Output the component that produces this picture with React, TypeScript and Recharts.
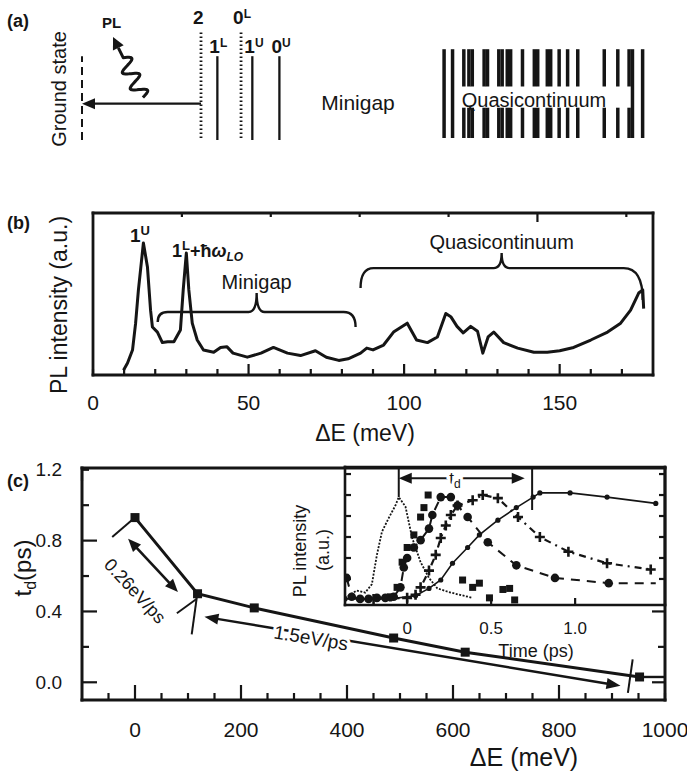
import React from "react"
import { ComposedChart, Line, XAxis, YAxis, ReferenceLine } from "recharts"

const FONT = "'Liberation Sans', Arial, Helvetica, sans-serif"
const INK = "#151515"
const W = 687

// (a) level scheme, energies in arbitrary units with the ground state at 0
const levelNames = ["2", "1L", "0L", "1U", "0U"]
const levelEnergies = [21.1, 24.0, 28.2, 30.2, 35.0]
const levelDotted = [true, false, true, false, false]
const quasiLevels = [
  64.2, 65.7, 67.7, 68.6, 69.2, 71.3, 71.9, 73.9, 74.5, 75.4, 76.0, 78.1, 80.2, 80.8, 82.5, 83.1, 84.6,
  86.1, 87.9, 92.6, 95.0, 97.0, 97.6, 99.4,
]
const quasiUnbroken = [64.2, 65.7, 97.6, 99.4]

// (b) PL spectrum
const plEnergy = [
  9.8, 11.1, 12.7, 13.7, 14.6, 16.2, 17.5, 18.5, 19.1, 20.7, 22.3, 24, 26, 28.1, 29, 30, 30.8, 31.9, 33.5,
  35.5, 38.8, 41, 43, 45, 49.6, 54, 58, 62.5, 66.7, 71.5, 75, 79, 82, 86, 88, 90, 93.4, 96.6, 101, 104,
  107.5, 110.7, 113.4, 115, 117, 119, 121.4, 123.6, 125.3, 127, 128.8, 132, 136.5, 141.7, 146, 150, 154.5,
  160, 165.4, 169.6, 172.8, 175.4, 176.7, 177,
]
const plIntensity = [
  3, 7.4, 15.4, 32, 52.5, 81.5, 66.7, 40, 29.6, 26.5, 20, 20.5, 20.5, 27.8, 52.5, 75.3, 52.5, 32, 21.6,
  15.4, 14, 17, 17.5, 13.5, 11, 13.5, 17, 13.5, 12, 15, 11, 9, 10, 13.5, 16.6, 15.5, 18.5, 26.5, 32, 21.6,
  20, 23.5, 38, 36, 30, 26, 30, 27, 13.5, 23.5, 26.5, 20, 16.6, 14, 14, 15, 17, 21.6, 26.5, 32, 40, 50.6,
  52.5, 41,
]
const spectrumTicks = [10, 20, 30, 40, 50, 60, 70, 80, 90, 100, 110, 120, 130, 140, 150, 160, 170]
const spectrumLabels = [0, 50, 100, 150]

// (c) delay time vs excess energy
const delayEnergy = [0, 118, 225, 488, 623, 952]
const delayTime = [0.93, 0.5, 0.42, 0.25, 0.17, 0.03]
const delayXTicks = [-50, 0, 50, 100, 150, 200, 250, 300, 350, 400, 450, 500, 550, 600, 650, 700, 750, 800, 850, 900, 950, 1000]
const delayXTopTicks = [-50, 0, 50, 100, 150, 200, 250, 300, 350]
const delayXLabels = [0, 200, 400, 600, 800, 1000]
const delayYTicks = [0, 0.2, 0.4, 0.6, 0.8, 1.0, 1.2]
const delayYLabels = [0, 0.4, 0.8, 1.2]

// (c) inset: PL transients at increasing detection energy
const pulseT = [-0.37, -0.3, -0.25, -0.21, -0.18, -0.15, -0.11, -0.07, -0.05, -0.01, 0.03, 0.08, 0.13, 0.18, 0.26, 0.39]
const pulseV = [0.02, 0.09, 0.07, 0.15, 0.43, 0.65, 0.78, 0.9, 0.98, 0.89, 0.59, 0.36, 0.21, 0.11, 0.07, 0.02]
const squareT = [-0.1, -0.06, -0.03, 0.0, 0.04, 0.08, 0.1, 0.125, 0.33, 0.39, 0.43, 0.49, 0.57, 0.61, 0.64]
const squareV = [0.03, 0.12, 0.36, 0.5, 0.62, 0.79, 0.88, 1.0, 0.19, 0.12, 0.16, 0.02, 0.1, 0.11, 0.0]
const circleT = [-0.36, -0.33, -0.28, -0.23, -0.18, -0.13, -0.08, -0.04, -0.02, 0.0, 0.04, 0.08, 0.13, 0.15, 0.2, 0.26, 0.3, 0.36, 0.48, 0.65, 0.88, 1.2, 1.48]
const circleV = [0.21, 0.03, 0.01, 0.01, 0.02, 0.02, 0.03, 0.12, 0.31, 0.4, 0.5, 0.57, 0.68, 0.81, 0.98, 0.98, 0.9, 0.79, 0.55, 0.33, 0.21, 0.16, 0.16]
const crossT = [-0.2, 0.0, 0.05, 0.08, 0.13, 0.17, 0.2, 0.23, 0.26, 0.3, 0.39, 0.45, 0.54, 0.66, 0.79, 0.96, 1.19, 1.45]
const crossV = [0.01, 0.02, 0.05, 0.12, 0.28, 0.43, 0.59, 0.71, 0.81, 0.9, 0.95, 1.0, 0.97, 0.79, 0.6, 0.46, 0.35, 0.29]
const diamondT = [-0.37, -0.1, 0.05, 0.13, 0.2, 0.27, 0.36, 0.43, 0.54, 0.65, 0.75, 0.79, 0.97, 1.19, 1.48]
const diamondV = [0.01, 0.01, 0.04, 0.11, 0.19, 0.35, 0.5, 0.62, 0.76, 0.88, 0.98, 1.02, 1.02, 0.98, 0.92]
const insetXLabels = [0, 0.5, 1.0]
const insetYTicks = [0.2, 0.4, 0.6, 0.8, 1.0, 1.2]

const zip = (t: number[], v: number[]) => t.map((x, i) => ({ t: x, v: v[i] }))

// ---------- frame helpers ----------
type Side = "bottom" | "top" | "left" | "right"
type TickStyle = {
  side: Side
  major?: number[]
  labelled?: number[]
  long?: number
  short?: number
  gap?: number
  fontSize?: number
  width?: number
  format?: (v: number) => string
}

const near = (list: number[] | undefined, v: number) => !!list && list.some((m) => Math.abs(m - v) < 1e-6)

// inward-pointing tick with an optional label outside the frame
function frameTick(s: TickStyle) {
  return function FrameTick(p: any) {
    const v = Number(p.payload?.value)
    const x = Number(p.x)
    const y = Number(p.y)
    const len = near(s.major, v) ? s.long ?? 10 : s.short ?? 5
    const d = { bottom: [0, -len], top: [0, len], left: [len, 0], right: [-len, 0] }[s.side]
    const gap = s.gap ?? 20
    const text = s.format ? s.format(v) : String(v)
    const common = { fill: INK, fontSize: s.fontSize ?? 18, fontFamily: FONT }
    let label: React.ReactNode = null
    if (near(s.labelled, v)) {
      label =
        s.side === "left" ? (
          <text x={x - gap} y={y} textAnchor="end" dominantBaseline="central" {...common}>
            {text}
          </text>
        ) : (
          <text x={x} y={y + gap} textAnchor="middle" dominantBaseline="central" {...common}>
            {text}
          </text>
        )
    }
    return (
      <g>
        <line x1={x} y1={y} x2={x + d[0]} y2={y + d[1]} stroke={INK} strokeWidth={s.width ?? 2.2} />
        {label}
      </g>
    )
  }
}

const frameLine = (w: number) => ({ stroke: INK, strokeWidth: w, strokeLinecap: "square" as const })
const noTick = () => <g />

// straight line with optional arrow heads at either end
function arrowShape(start: boolean, end: boolean, width = 2.4, head = 12, half = 5) {
  return function Arrow(p: any) {
    const { x1, y1, x2, y2 } = p
    const L = Math.hypot(x2 - x1, y2 - y1) || 1
    const ux = (x2 - x1) / L
    const uy = (y2 - y1) / L
    const nx = -uy
    const ny = ux
    const tri = (tx: number, ty: number, s: number) => {
      const bx = tx - s * ux * head
      const by = ty - s * uy * head
      return `${tx},${ty} ${bx + nx * half},${by + ny * half} ${bx - nx * half},${by - ny * half}`
    }
    const sx = start ? x1 + ux * head * 0.7 : x1
    const sy = start ? y1 + uy * head * 0.7 : y1
    const ex = end ? x2 - ux * head * 0.7 : x2
    const ey = end ? y2 - uy * head * 0.7 : y2
    return (
      <g>
        <line x1={sx} y1={sy} x2={ex} y2={ey} stroke={INK} strokeWidth={width} />
        {start && <polygon points={tri(x1, y1, -1)} fill={INK} />}
        {end && <polygon points={tri(x2, y2, 1)} fill={INK} />}
      </g>
    )
  }
}

// wavy photon arrow from (x1,y1) to the head at (x2,y2)
function wavyArrow(p: any) {
  const { x1, y1, x2, y2 } = p
  const L = Math.hypot(x2 - x1, y2 - y1) || 1
  const ux = (x2 - x1) / L
  const uy = (y2 - y1) / L
  const nx = -uy
  const ny = ux
  const waveLen = L * 0.66
  const pts: string[] = []
  for (let i = 0; i <= 60; i++) {
    const s = (i / 60) * waveLen
    const a = 7.5 * Math.sin((s / waveLen) * Math.PI * 5)
    pts.push(`${x1 + ux * s + nx * a},${y1 + uy * s + ny * a}`)
  }
  const head = 12
  const hx = x2 - ux * head
  const hy = y2 - uy * head
  pts.push(`${hx},${hy}`)
  return (
    <g>
      <polyline points={pts.join(" ")} fill="none" stroke={INK} strokeWidth={3} strokeLinejoin="round" />
      <polygon points={`${x2},${y2} ${hx + nx * 6},${hy + ny * 6} ${hx - nx * 6},${hy - ny * 6}`} fill={INK} />
    </g>
  )
}

// energy level with its name written above
function levelShape(name: string, dotted: boolean) {
  return function Level(p: any) {
    const { x1, y1, x2, y2 } = p
    const top = Math.min(y1, y2)
    return (
      <g>
        <line
          x1={x1}
          y1={y1}
          x2={x2}
          y2={y2}
          stroke={INK}
          strokeWidth={dotted ? 2.8 : 2.3}
          strokeDasharray={dotted ? "1.5 2.5" : undefined}
        />
        <text x={x1 - 8} y={top - (dotted ? 7 : 3)} fill={INK} fontFamily={FONT} fontWeight={700} fontSize={19}>
          {name[0]}
          {name.length > 1 && (
            <tspan dy={-6} fontSize={12}>
              {name.slice(1)}
            </tspan>
          )}
        </text>
      </g>
    )
  }
}

// curly brace along a horizontal segment, tip in the middle, label on top
function braceShape(label: string, tip: number, dropL: number, dropR: number, rL: number, rR: number) {
  return function Brace(p: any) {
    const { x1, y1, x2 } = p
    const xm = (x1 + x2) / 2
    const y = y1
    const d =
      `M${x1},${y + dropL} Q${x1},${y} ${x1 + rL},${y} L${xm - 8},${y} Q${xm},${y} ${xm},${y - tip}` +
      ` Q${xm},${y} ${xm + 8},${y} L${x2 - rR},${y} Q${x2},${y} ${x2},${y + dropR}`
    return (
      <g>
        <path d={d} fill="none" stroke={INK} strokeWidth={2.4} />
        <text x={xm} y={y - tip - 4} textAnchor="middle" fill={INK} fontFamily={FONT} fontSize={20}>
          {label}
        </text>
      </g>
    )
  }
}

// ---------- (a) ----------
const SOLID_TOP = 75.5
const DOTTED_TOP = 98
const DOTTED_BOTTOM = 1.8
const QC_TOP = 81.8
const QC_GAP_TOP = 48.2
const QC_GAP_BOTTOM = 29.1
const TRANSFER_Y = 32.7

function LevelScheme() {
  const ids = { xAxisId: "e", yAxisId: "h", ifOverflow: "visible" as const }
  const rows = levelEnergies.map((e) => ({ e, h: 0 }))
  const qcStroke = { stroke: INK, strokeWidth: 3.5 }
  return (
    <ComposedChart width={W} height={160} margin={{ top: 29, right: 41, bottom: 19, left: 81 }} data={rows}>
      <XAxis xAxisId="e" dataKey="e" type="number" domain={[0, 100]} allowDataOverflow ticks={[50]} height={1} axisLine={false} tickLine={false} tick={noTick} />
      <YAxis yAxisId="h" type="number" domain={[0, 100]} allowDataOverflow ticks={[50]} width={1} axisLine={false} tickLine={false} tick={noTick} />
      {/* carries the energy axis only, draws nothing */}
      <Line xAxisId="e" yAxisId="h" dataKey="h" stroke="none" dot={false} isAnimationActive={false} />
      <ReferenceLine
        {...ids}
        segment={[{ x: 0, y: 0 }, { x: 0, y: SOLID_TOP }]}
        stroke={INK}
        strokeWidth={2}
        strokeDasharray="8 5"
      />
      {levelEnergies.map((e, i) => (
        <ReferenceLine
          key={levelNames[i]}
          {...ids}
          segment={[
            { x: e, y: levelDotted[i] ? DOTTED_BOTTOM : 0 },
            { x: e, y: levelDotted[i] ? DOTTED_TOP : SOLID_TOP },
          ]}
          shape={levelShape(levelNames[i], levelDotted[i])}
        />
      ))}
      <ReferenceLine
        {...ids}
        segment={[{ x: levelEnergies[0], y: TRANSFER_Y }, { x: 0, y: TRANSFER_Y }]}
        shape={arrowShape(false, true, 2.2, 13, 5.5)}
      />
      <ReferenceLine {...ids} segment={[{ x: 10.8, y: 38.2 }, { x: 5.5, y: 92.7 }]} shape={wavyArrow} />
      {quasiLevels.map((e) =>
        near(quasiUnbroken, e) ? (
          <ReferenceLine key={`f${e}`} {...ids} segment={[{ x: e, y: DOTTED_BOTTOM }, { x: e, y: QC_TOP }]} {...qcStroke} />
        ) : (
          [
            <ReferenceLine key={`u${e}`} {...ids} segment={[{ x: e, y: QC_GAP_TOP }, { x: e, y: QC_TOP }]} {...qcStroke} />,
            <ReferenceLine key={`l${e}`} {...ids} segment={[{ x: e, y: DOTTED_BOTTOM }, { x: e, y: QC_GAP_BOTTOM }]} {...qcStroke} />,
          ]
        ),
      )}
    </ComposedChart>
  )
}

// ---------- (b) ----------
function Spectrum() {
  const rows = plEnergy.map((e, i) => ({ e, pl: plIntensity[i] }))
  const ids = { xAxisId: "x", yAxisId: "y", ifOverflow: "visible" as const }
  return (
    <ComposedChart width={W} height={270} margin={{ top: 32, right: 33, bottom: 74, left: 92 }} data={rows}>
      <XAxis
        xAxisId="x"
        dataKey="e"
        type="number"
        domain={[0, 180]}
        allowDataOverflow
        ticks={[0, ...spectrumTicks]}
        interval={0}
        height={1}
        tickSize={0}
        tickMargin={0}
        tickLine={false}
        axisLine={frameLine(2.8)}
        tick={frameTick({ side: "bottom", major: [50, 100, 150], labelled: spectrumLabels, long: 11, short: 6, gap: 27, fontSize: 21 })}
      />
      <XAxis
        xAxisId="xt"
        orientation="top"
        type="number"
        domain={[0, 180]}
        allowDataOverflow
        ticks={spectrumTicks}
        interval={0}
        height={1}
        tickSize={0}
        tickMargin={0}
        tickLine={false}
        axisLine={frameLine(2.8)}
        tick={frameTick({ side: "top", major: [50, 100, 150], long: 9, short: 4 })}
      />
      <YAxis yAxisId="y" type="number" domain={[0, 100]} allowDataOverflow ticks={[50]} width={1} tickSize={0} tickLine={false} axisLine={frameLine(2.8)} tick={noTick} />
      <YAxis yAxisId="yr" orientation="right" type="number" domain={[0, 100]} allowDataOverflow ticks={[50]} width={1} tickSize={0} tickLine={false} axisLine={frameLine(2.8)} tick={noTick} />
      <Line
        xAxisId="x"
        yAxisId="y"
        dataKey="pl"
        type="linear"
        stroke={INK}
        strokeWidth={3}
        strokeLinejoin="round"
        dot={false}
        isAnimationActive={false}
      />
      <ReferenceLine {...ids} segment={[{ x: 20.8, y: 38.9 }, { x: 84.4, y: 38.9 }]} shape={braceShape("Minigap", 19, 10, 15, 10, 12)} />
      <ReferenceLine {...ids} segment={[{ x: 86, y: 66 }, { x: 176.7, y: 66 }]} shape={braceShape("Quasicontinuum", 15, 20, 32, 13, 19)} />
    </ComposedChart>
  )
}

// ---------- (c) ----------
const squareMark = (size: number) =>
  function Sq(p: any) {
    if (p.cx == null || p.cy == null) return <g key={`q${p.index}`} />
    return <rect key={`q${p.index}`} x={p.cx - size / 2} y={p.cy - size / 2} width={size} height={size} fill={INK} />
  }

function DelayPlot() {
  const rows = delayEnergy.map((e, i) => ({ e, td: delayTime[i] }))
  const ids = { xAxisId: "x", yAxisId: "y", ifOverflow: "visible" as const }
  const fmt = (v: number) => v.toFixed(1)
  return (
    <ComposedChart width={W} height={333} margin={{ top: 27, right: 21, bottom: 72, left: 81 }} data={rows}>
      <XAxis
        xAxisId="x"
        dataKey="e"
        type="number"
        domain={[-100, 1000]}
        allowDataOverflow
        ticks={delayXTicks}
        interval={0}
        height={1}
        tickSize={0}
        tickMargin={0}
        tickLine={false}
        axisLine={frameLine(3)}
        tick={frameTick({ side: "bottom", major: [0, 200, 400, 600, 800], labelled: delayXLabels, long: 15, short: 7, gap: 29, fontSize: 21 })}
      />
      <XAxis
        xAxisId="xt"
        orientation="top"
        type="number"
        domain={[-100, 1000]}
        allowDataOverflow
        ticks={delayXTopTicks}
        interval={0}
        height={1}
        tickSize={0}
        tickMargin={0}
        tickLine={false}
        axisLine={frameLine(3)}
        tick={frameTick({ side: "top", major: [0, 200], long: 13, short: 7 })}
      />
      <YAxis
        yAxisId="y"
        type="number"
        domain={[-0.1, 1.21]}
        allowDataOverflow
        ticks={delayYTicks}
        interval={0}
        width={1}
        tickSize={0}
        tickMargin={0}
        tickLine={false}
        axisLine={frameLine(3)}
        tick={frameTick({ side: "left", major: [0, 0.4, 0.8], labelled: delayYLabels, long: 15, short: 7, gap: 20, fontSize: 19, format: fmt })}
      />
      <YAxis
        yAxisId="yr"
        orientation="right"
        type="number"
        domain={[-0.1, 1.21]}
        allowDataOverflow
        ticks={[0, 0.2, 0.4]}
        interval={0}
        width={1}
        tickSize={0}
        tickMargin={0}
        tickLine={false}
        axisLine={frameLine(3)}
        tick={frameTick({ side: "right", major: [0, 0.4], long: 13, short: 7 })}
      />
      <Line
        xAxisId="x"
        yAxisId="y"
        dataKey="td"
        type="linear"
        stroke={INK}
        strokeWidth={3}
        dot={squareMark(9)}
        isAnimationActive={false}
      />
      <ReferenceLine {...ids} segment={[{ x: 952, y: 0.03 }, { x: 1000, y: 0.03 }]} stroke={INK} strokeWidth={2.4} />
      {/* slope guides */}
      <ReferenceLine {...ids} segment={[{ x: -13, y: 0.81 }, { x: 81, y: 0.51 }]} shape={arrowShape(true, true, 2.6, 13, 5.5)} />
      <ReferenceLine {...ids} segment={[{ x: 131, y: 0.37 }, { x: 916, y: -0.02 }]} shape={arrowShape(true, true, 2.4, 14, 5.5)} />
      <ReferenceLine {...ids} segment={[{ x: -43, y: 0.82 }, { x: -4, y: 0.92 }]} stroke={INK} strokeWidth={2} />
      <ReferenceLine {...ids} segment={[{ x: 79, y: 0.39 }, { x: 116, y: 0.47 }]} stroke={INK} strokeWidth={2} />
      <ReferenceLine {...ids} segment={[{ x: 107, y: 0.27 }, { x: 118, y: 0.51 }]} stroke={INK} strokeWidth={2} />
      <ReferenceLine {...ids} segment={[{ x: 930, y: -0.06 }, { x: 939, y: 0.13 }]} stroke={INK} strokeWidth={2} />
    </ComposedChart>
  )
}

const circleMark = (last: number) =>
  function Ci(p: any) {
    if (p.index === last || p.cx == null) return <g key={`c${p.index}`} />
    return <circle key={`c${p.index}`} cx={p.cx} cy={p.cy} r={4.3} fill={INK} />
  }
const crossMark = (p: any) =>
  p.cx == null ? (
    <g key={`x${p.index}`} />
  ) : (
    <path key={`x${p.index}`} d={`M${p.cx - 5},${p.cy}h10M${p.cx},${p.cy - 5}v10`} stroke={INK} strokeWidth={2.6} />
  )
const smallMark = (p: any) =>
  p.cx == null ? <g key={`d${p.index}`} /> : <circle key={`d${p.index}`} cx={p.cx} cy={p.cy} r={2.6} fill={INK} />

function TransientsInset() {
  const ids = { xAxisId: "x", yAxisId: "y", ifOverflow: "visible" as const }
  const fmt = (v: number) => (v === 0 ? "0" : v.toFixed(1))
  return (
    <ComposedChart width={407} height={220} margin={{ top: 26, right: 21, bottom: 54, left: 64 }}>
      <XAxis
        xAxisId="x"
        dataKey="t"
        type="number"
        domain={[-0.37, 1.535]}
        allowDataOverflow
        ticks={insetXLabels}
        interval={0}
        height={1}
        tickSize={0}
        tickMargin={0}
        tickLine={false}
        axisLine={frameLine(2.6)}
        tick={frameTick({ side: "bottom", major: [0.5, 1.0], labelled: insetXLabels, long: 7, short: 5, gap: 23, fontSize: 17, format: fmt })}
      />
      <XAxis
        xAxisId="xt"
        orientation="top"
        type="number"
        domain={[-0.37, 1.535]}
        allowDataOverflow
        ticks={[0.5, 1.0]}
        interval={0}
        height={1}
        tickSize={0}
        tickMargin={0}
        tickLine={false}
        axisLine={frameLine(2.6)}
        tick={frameTick({ side: "top", short: 7 })}
      />
      <YAxis
        yAxisId="y"
        type="number"
        domain={[-0.048, 1.267]}
        allowDataOverflow
        ticks={insetYTicks}
        interval={0}
        width={1}
        tickSize={0}
        tickMargin={0}
        tickLine={false}
        axisLine={frameLine(2.6)}
        tick={frameTick({ side: "left", short: 6 })}
      />
      <YAxis
        yAxisId="yr"
        orientation="right"
        type="number"
        domain={[-0.048, 1.267]}
        allowDataOverflow
        ticks={insetYTicks}
        interval={0}
        width={1}
        tickSize={0}
        tickMargin={0}
        tickLine={false}
        axisLine={frameLine(2.6)}
        tick={frameTick({ side: "right", short: 6 })}
      />
      <Line {...ids} data={zip(pulseT, pulseV)} dataKey="v" type="linear" stroke={INK} strokeWidth={1.8} strokeDasharray="2 1.5" dot={false} isAnimationActive={false} />
      <Line {...ids} data={zip(squareT, squareV)} dataKey="v" type="linear" stroke="none" dot={squareMark(7)} isAnimationActive={false} />
      <Line {...ids} data={zip(circleT, circleV)} dataKey="v" type="linear" stroke={INK} strokeWidth={2} strokeDasharray="9 7" dot={circleMark(circleT.length - 1)} isAnimationActive={false} />
      <Line {...ids} data={zip(crossT, crossV)} dataKey="v" type="linear" stroke={INK} strokeWidth={2.2} strokeDasharray="7 5 2 5" dot={crossMark} isAnimationActive={false} />
      <Line {...ids} data={zip(diamondT, diamondV)} dataKey="v" type="linear" stroke={INK} strokeWidth={1.6} dot={smallMark} isAnimationActive={false} />
      {/* delay marker */}
      <ReferenceLine {...ids} segment={[{ x: -0.05, y: 1.267 }, { x: -0.05, y: 0.98 }]} stroke={INK} strokeWidth={2} />
      <ReferenceLine {...ids} segment={[{ x: 0.744, y: 1.267 }, { x: 0.744, y: 0.857 }]} stroke={INK} strokeWidth={2} />
      <ReferenceLine {...ids} segment={[{ x: -0.05, y: 1.16 }, { x: 0.7, y: 1.16 }]} shape={arrowShape(true, true, 2, 13, 5.5)} />
    </ComposedChart>
  )
}

export default function App() {
  const t = { fill: INK, fontFamily: FONT }
  const halo = { stroke: "#fff", strokeWidth: 6, paintOrder: "stroke" as const }
  return (
    <div style={{ position: "absolute", left: 0, top: 0, width: W, height: 773, background: "#fff", overflow: "hidden" }}>
      <div style={{ position: "absolute", left: 0, top: 0 }}>
        <LevelScheme />
      </div>
      <div style={{ position: "absolute", left: 0, top: 180 }}>
        <Spectrum />
      </div>
      <div style={{ position: "absolute", left: 0, top: 440 }}>
        <DelayPlot />
      </div>
      <div style={{ position: "absolute", left: 280, top: 440 }}>
        <TransientsInset />
      </div>
      <svg width={W} height={773} style={{ position: "absolute", left: 0, top: 0, pointerEvents: "none" }}>
        <text x={7} y={27} fontSize={18} fontWeight={700} {...t}>(a)</text>
        <text x={7} y={229} fontSize={18} fontWeight={700} {...t}>(b)</text>
        <text x={7} y={487} fontSize={18} fontWeight={700} {...t}>(c)</text>

        <text transform="translate(66,89) rotate(-90)" textAnchor="middle" fontSize={20} {...t}>Ground state</text>
        <text x={102} y={28} fontSize={15} fontWeight={700} {...t}>PL</text>
        <text x={358} y={110} textAnchor="middle" fontSize={21} {...t}>Minigap</text>
        <text x={534} y={107} textAnchor="middle" fontSize={20} {...t}>Quasicontinuum</text>

        <text transform="translate(67,305) rotate(-90)" textAnchor="middle" fontSize={23} {...t}>PL intensity (a.u.)</text>
        <text x={130} y={242} fontSize={19} fontWeight={700} {...t}>
          1<tspan dy={-7} fontSize={13}>U</tspan>
        </text>
        <text x={172} y={257} fontSize={18} fontWeight={700} {...t}>
          1<tspan dy={-7} fontSize={13}>L</tspan>
          <tspan dy={7}>+ħ</tspan>
          <tspan fontStyle="italic">ω</tspan>
          <tspan dy={4} fontSize={12} fontStyle="italic">LO</tspan>
        </text>
        <text x={365} y={441} textAnchor="middle" fontSize={23} {...t}>ΔE (meV)</text>

        <text transform="translate(31,568) rotate(-90)" textAnchor="middle" fontSize={24} {...t}>
          t<tspan dy={5} fontSize={16}>d</tspan>
          <tspan dy={-5}>(ps)</tspan>
        </text>
        <text transform="translate(135,591) rotate(47)" textAnchor="middle" dominantBaseline="central" fontSize={18} {...t}>0.26eV/ps</text>
        <text transform="translate(311,638) rotate(9.5)" textAnchor="middle" dominantBaseline="central" fontSize={19} {...halo} {...t}>1.5eV/ps</text>
        <text transform="translate(306,551) rotate(-90)" textAnchor="middle" fontSize={18} {...t}>PL intensity</text>
        <text transform="translate(329,550) rotate(-90)" textAnchor="middle" fontSize={18} {...t}>(a.u.)</text>
        <text x={455} y={484} textAnchor="middle" fontSize={17} {...halo} {...t}>
          t<tspan dy={4} fontSize={12}>d</tspan>
        </text>
        <text x={536} y={657} textAnchor="middle" fontSize={18} {...t}>Time (ps)</text>
        <text x={524} y={766} textAnchor="middle" fontSize={25} {...t}>ΔE (meV)</text>
      </svg>
    </div>
  )
}
